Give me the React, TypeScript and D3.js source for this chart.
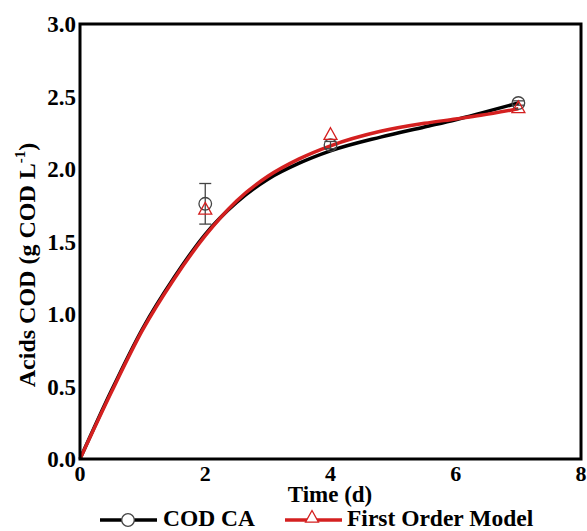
import React from "react";
import * as d3 from "d3";

const xTicks = [0, 2, 4, 6, 8];
const yTicks = [0.0, 0.5, 1.0, 1.5, 2.0, 2.5, 3.0];

// Measured points
const codTime = [2, 4, 7];
const codValue = [1.76, 2.165, 2.455];
const codErrLow = [1.62, 2.14, 2.44];
const codErrHigh = [1.9, 2.19, 2.47];

const modelTime = [2, 4, 7];
const modelValue = [1.725, 2.24, 2.425];

// Fitted curves
const codCurveT = [0, 0.5, 1, 1.5, 2, 2.5, 3, 3.5, 4, 4.8, 5.5, 6, 6.4, 7];
const codCurveV = [0, 0.47, 0.9, 1.25, 1.55, 1.77, 1.93, 2.04, 2.125, 2.22, 2.29, 2.34, 2.385, 2.455];
const modelCurveT = [0, 0.5, 1, 1.5, 2, 2.5, 3, 3.5, 4, 4.8, 5.5, 6, 6.4, 7];
const modelCurveV = [0, 0.46, 0.89, 1.24, 1.54, 1.78, 1.95, 2.07, 2.16, 2.26, 2.315, 2.345, 2.37, 2.415];

const W = 587;
const H = 531;
const left = 80, right = 581, top = 24, bottom = 459;
const FONT = "'Liberation Serif', 'Times New Roman', serif";
const RED = "#d42020";

export default function App() {
  const x = d3.scaleLinear().domain([0, 8]).range([left, right]);
  const y = d3.scaleLinear().domain([0, 3]).range([bottom, top]);

  const mk = (ts: number[], vs: number[]) =>
    d3
      .line<number>()
      .x((t) => x(t))
      .y((_, i) => y(vs[i]))
      .curve(d3.curveMonotoneX)(ts) || "";

  const tri = (cx: number, cy: number, s = 6.5) =>
    `M${cx},${cy - s} L${cx + s},${cy + s * 0.8} L${cx - s},${cy + s * 0.8} Z`;

  return (
    <svg
      width={W}
      height={H}
      style={{ position: "absolute", left: 0, top: 0, background: "#fff" }}
      fontFamily={FONT}
      fontWeight="bold"
    >
      <rect x={0} y={0} width={W} height={H} fill="#fff" />
      {/* curves */}
      <path d={mk(codCurveT, codCurveV)} fill="none" stroke="#000" strokeWidth={3.5} />
      <path d={mk(modelCurveT, modelCurveV)} fill="none" stroke={RED} strokeWidth={3.5} />

      {/* error bars */}
      {codTime.map((t, i) => (
        <g key={"e" + i} stroke="#444" strokeWidth={1.3}>
          <line x1={x(t)} x2={x(t)} y1={y(codErrLow[i])} y2={y(codErrHigh[i])} />
          <line x1={x(t) - 6} x2={x(t) + 6} y1={y(codErrLow[i])} y2={y(codErrLow[i])} />
          <line x1={x(t) - 6} x2={x(t) + 6} y1={y(codErrHigh[i])} y2={y(codErrHigh[i])} />
        </g>
      ))}
      {/* circles */}
      {codTime.map((t, i) => (
        <circle key={"c" + i} cx={x(t)} cy={y(codValue[i])} r={6.3} fill="none" stroke="#444" strokeWidth={1.3} />
      ))}
      {/* triangles */}
      {modelTime.map((t, i) => (
        <path key={"t" + i} d={tri(x(t), y(modelValue[i]))} fill="none" stroke={RED} strokeWidth={1.3} />
      ))}

      {/* frame */}
      <rect x={left} y={top} width={right - left} height={bottom - top} fill="none" stroke="#000" strokeWidth={3} />

      {/* y ticks */}
      {yTicks.map((v) => (
        <text key={"y" + v} x={76} y={y(v) + 8} textAnchor="end" fontSize={23}>
          {v.toFixed(1)}
        </text>
      ))}
      {/* x ticks */}
      {xTicks.map((v) => (
        <text key={"x" + v} x={x(v)} y={481} textAnchor="middle" fontSize={22}>
          {v}
        </text>
      ))}

      <text x={330} y={502} textAnchor="middle" fontSize={23}>
        Time (d)
      </text>
      <text transform="translate(35,265) rotate(-90)" textAnchor="middle" fontSize={24}>
        Acids COD (g COD L<tspan dy={-10} fontSize={15}>-1</tspan>
        <tspan dy={10}>)</tspan>
      </text>

      {/* legend */}
      <line x1={100} x2={157} y1={520} y2={520} stroke="#000" strokeWidth={3.5} />
      <circle cx={128} cy={520} r={6.3} fill="#fff" stroke="#444" strokeWidth={1.3} />
      <text x={163} y={526} fontSize={23.5}>COD CA</text>
      <line x1={285} x2={342} y1={520} y2={520} stroke={RED} strokeWidth={3.5} />
      <path d={tri(312, 517)} fill="#fff" stroke={RED} strokeWidth={1.3} />
      <text x={347} y={526} fontSize={23.5}>First Order Model</text>
    </svg>
  );
}
